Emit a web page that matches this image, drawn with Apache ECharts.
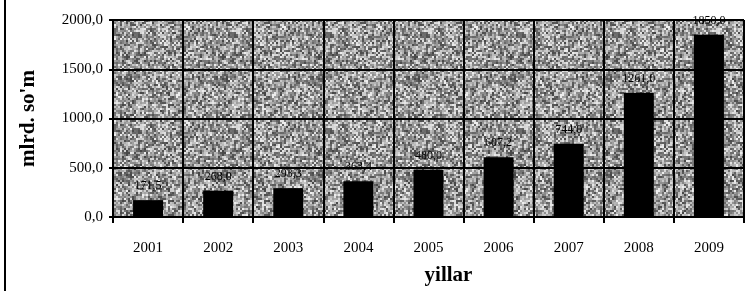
<!DOCTYPE html>
<html lang="uz">
<head>
    <meta charset="UTF-8">
    <title>mlrd. so'm</title>
    <script src="https://cdn.jsdelivr.net/npm/echarts@6/dist/echarts.min.js"></script>
    <style>
        body { margin: 0; background: #fff; }
        #chart { width: 751px; height: 291px; }
    </style>
</head>
<body>
    <div id="chart"></div>
    <script>
        const years = ['2001', '2002', '2003', '2004', '2005', '2006', '2007', '2008', '2009'];
        const values = [171.5, 268.0, 293.3, 363.4, 480.0, 607.2, 744.0, 1261.0, 1850.0];
        const yTicks = [0, 500, 1000, 1500, 2000];

        // speckled grey backdrop like the scanned original
        function makeTexture() {
            const c = document.createElement('canvas');
            c.width = 96; c.height = 96;
            const ctx = c.getContext('2d');
            let s = 98765;
            for (let y = 0; y < 96; y += 2) {
                for (let x = 0; x < 96; x += 2) {
                    s = (s * 1103515245 + 12345) & 0x7fffffff;
                    const g = 70 + ((s >> 8) % 170);
                    ctx.fillStyle = 'rgb(' + g + ',' + g + ',' + g + ')';
                    ctx.fillRect(x, y, 2, 2);
                }
            }
            return c;
        }

        const fmt = v => v.toFixed(1).replace('.', ',');
        const serif = '"Liberation Serif", "DejaVu Serif", serif';

        const chart = echarts.init(document.getElementById('chart'));
        chart.setOption({
            animation: false,
            grid: {
                left: 113, right: 7, top: 20, bottom: 74,
                show: true,
                borderWidth: 0,
                backgroundColor: { image: makeTexture(), repeat: 'repeat' }
            },
            xAxis: {
                type: 'category',
                data: years,
                name: 'yillar',
                nameLocation: 'middle',
                nameGap: 48,
                nameTextStyle: { fontFamily: serif, fontWeight: 'bold', fontSize: 21, color: '#000', padding: [0, 0, 0, 40] },
                axisLine: { lineStyle: { color: '#000', width: 2 } },
                axisTick: { show: true, length: 6, lineStyle: { color: '#000', width: 2 } },
                axisLabel: { fontFamily: serif, fontSize: 15, color: '#000', margin: 24 },
                splitLine: { show: true, lineStyle: { color: '#000', width: 2 } }
            },
            yAxis: {
                type: 'value',
                min: yTicks[0],
                max: yTicks[yTicks.length - 1],
                interval: 500,
                name: "mlrd. so'm",
                nameLocation: 'middle',
                nameGap: 74,
                nameTextStyle: { fontFamily: serif, fontWeight: 'bold', fontSize: 21, color: '#000' },
                axisLine: { show: true, lineStyle: { color: '#000', width: 2 } },
                axisTick: { show: true, length: 4, lineStyle: { color: '#000', width: 2 } },
                axisLabel: { fontFamily: serif, fontSize: 15, color: '#000', margin: 10, formatter: fmt },
                splitLine: { show: true, lineStyle: { color: '#000', width: 2 } }
            },
            series: [{
                type: 'bar',
                data: values,
                barWidth: 30,
                itemStyle: { color: '#000' },
                label: {
                    show: true,
                    position: 'top',
                    distance: 8,
                    fontFamily: serif,
                    fontSize: 12,
                    color: '#000',
                    formatter: p => fmt(p.value)
                }
            }],
            graphic: [{
                type: 'line',
                shape: { x1: 5, y1: 0, x2: 5, y2: 291 },
                style: { stroke: '#000', lineWidth: 2 }
            }]
        });
    </script>
</body>
</html>
